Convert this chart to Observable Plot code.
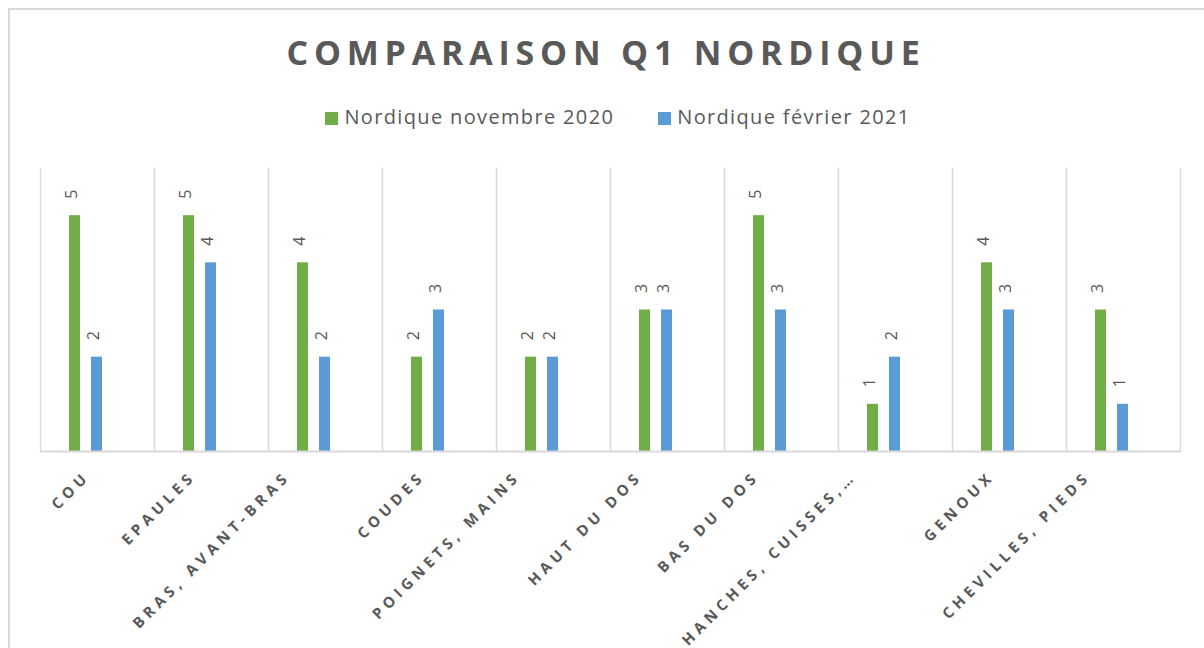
<!DOCTYPE html>
<html>
<head>
<meta charset="utf-8">
<script src="https://cdn.jsdelivr.net/npm/d3@7"></script>
<script src="https://cdn.jsdelivr.net/npm/@observablehq/plot@0.6"></script>
<style>
  html, body { margin: 0; padding: 0; background: #fff; }
  #wrap { position: relative; width: 1204px; height: 648px; overflow: hidden; font-family: "Open Sans", sans-serif; }
  #border { position: absolute; left: 8px; top: 8px; width: 1300px; height: 700px; border-top: 2px solid #d9d9d9; border-left: 2px solid #d9d9d9; box-sizing: border-box; }
  #title { position: absolute; left: 8px; width: 1196px; top: 27px; text-align: center; font-size: 34px; font-weight: 700; letter-spacing: 5.8px; color: #595959; line-height: 50px; white-space: nowrap; }
  #legend { position: absolute; left: 20px; width: 1196px; top: 101px; text-align: center; font-size: 20px; letter-spacing: 1.35px; color: #595959; line-height: 32px; white-space: nowrap; }
  .item { display: inline-block; margin: 0 22px; }
  .sw { display: inline-block; width: 13px; height: 13px; margin-right: 6px; vertical-align: -1px; }
  #chart { position: absolute; left: 0; top: 140px; }
</style>
</head>
<body>
<div id="wrap">
  <div id="border"></div>
  <div id="title"></div>
  <div id="legend"></div>
  <div id="chart"></div>
</div>
<script>
const titleText = "COMPARAISON Q1 NORDIQUE";
const categories = ["COU", "EPAULES", "BRAS, AVANT-BRAS", "COUDES", "POIGNETS, MAINS", "HAUT DU DOS", "BAS DU DOS", "HANCHES, CUISSES,…", "GENOUX", "CHEVILLES, PIEDS"];
const seriesNames = ["Nordique novembre 2020", "Nordique février 2021"];
const seriesColors = ["#70ad47", "#5b9bd5"];
const novembre2020 = [5, 5, 4, 2, 2, 3, 5, 1, 4, 3];
const fevrier2021 = [2, 4, 2, 3, 2, 3, 3, 2, 3, 1];
const yTicks = [0, 6];

const data = [];
categories.forEach((c, i) => {
  data.push({cat: c, series: seriesNames[0], value: novembre2020[i]});
  data.push({cat: c, series: seriesNames[1], value: fevrier2021[i]});
});

document.getElementById("title").textContent = titleText;
const leg = document.getElementById("legend");
seriesNames.forEach((s, i) => {
  const it = document.createElement("span");
  it.className = "item";
  const sw = document.createElement("span");
  sw.className = "sw";
  sw.style.background = seriesColors[i];
  it.appendChild(sw);
  it.appendChild(document.createTextNode(s));
  leg.appendChild(it);
});

const plot = Plot.plot({
  width: 1204,
  height: 508,
  marginTop: 28,
  marginBottom: 197,
  marginLeft: 38,
  marginRight: 23,
  style: {fontFamily: "Open Sans, sans-serif", background: "transparent"},
  fx: {domain: categories, padding: 0, axis: null},
  x: {domain: [...seriesNames, "_"], paddingInner: 0.478, paddingOuter: 1.224, axis: null},
  y: {domain: yTicks, axis: null},
  color: {domain: seriesNames, range: seriesColors},
  marks: [
    Plot.frame({anchor: "left", stroke: "#d9d9d9", strokeWidth: 1.3, strokeOpacity: 1}),
    Plot.frame({anchor: "right", stroke: "#d9d9d9", strokeWidth: 1.3, strokeOpacity: 1}),
    Plot.barY(data, {fx: "cat", x: "series", y: "value", fill: "series"}),
    Plot.ruleY([0], {stroke: "#d9d9d9", strokeWidth: 2}),
    Plot.text(data, {fx: "cat", x: "series", y: "value", text: d => String(d.value), rotate: -90, textAnchor: "start", dy: -17, dx: -3, fontSize: 16, fill: "#595959"}),
    Plot.text(categories, {fx: d => d, text: d => d, frameAnchor: "bottom", rotate: -45, textAnchor: "end", dx: 1, dy: 26, fontSize: 15, fontWeight: "bold", fill: "#595959", className: "catlabel"})
  ]
});
document.getElementById("chart").appendChild(plot);
d3.select(plot).selectAll("text").filter(function() { return this.getAttribute("font-weight") === "bold" || this.parentNode.getAttribute("font-weight") === "bold"; })
  .style("letter-spacing", "4.6px")
  .each(function() {
    const L = this.getComputedTextLength();
    const t = this.getAttribute("transform") || "";
    this.setAttribute("transform", `translate(${-0.165 * L},0) ` + t);
  });
</script>
</body>
</html>
